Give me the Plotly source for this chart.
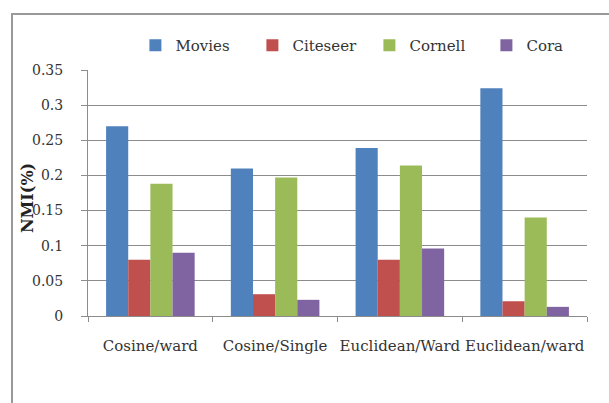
import plotly.graph_objects as go

categories = ["Cosine/ward", "Cosine/Single", "Euclidean/Ward", "Euclidean/ward"]
series_names = ["Movies", "Citeseer", "Cornell", "Cora"]
movies = [0.27, 0.21, 0.239, 0.324]
citeseer = [0.08, 0.031, 0.08, 0.021]
cornell = [0.188, 0.197, 0.214, 0.14]
cora = [0.09, 0.023, 0.096, 0.013]
colors = ["#4F81BD", "#C0504D", "#9BBB59", "#8064A2"]
y_ticks = [0, 0.05, 0.1, 0.15, 0.2, 0.25, 0.3, 0.35]
y_tick_labels = ["0", "0.05", "0.1", "0.15", "0.2", "0.25", "0.3", "0.35"]

FONT = "DejaVu Serif"

fig = go.Figure()
for name, vals, col in zip(series_names, [movies, citeseer, cornell, cora], colors):
    fig.add_trace(go.Bar(x=categories, y=vals, name=name, marker=dict(color=col, line=dict(width=0))))

fig.update_layout(
    width=609, height=403,
    margin=dict(l=88, r=22, t=70, b=87, autoexpand=False),
    paper_bgcolor="white", plot_bgcolor="white",
    barmode="group", bargap=0.29, bargroupgap=0,
    font=dict(family=FONT, size=14, color="#333333"),
    showlegend=True,
    legend=dict(orientation="h", x=0.095, y=1.10, xanchor="left", yanchor="middle",
                font=dict(family=FONT, size=15, color="#333333"),
                entrywidth=72, itemwidth=30, bgcolor="rgba(0,0,0,0)"),
    xaxis=dict(showgrid=False, showline=True, linecolor="#8c8c8c", linewidth=1,
               ticks="outside", tickson="boundaries", ticklen=5, tickcolor="#8c8c8c",
               tickangle=0, tickfont=dict(family=FONT, size=15, color="#333333"),
               ticklabelstandoff=16),
    yaxis=dict(range=[0, 0.35], tickvals=y_ticks, ticktext=y_tick_labels,
               showgrid=True, gridcolor="#8c8c8c", gridwidth=1,
               showline=True, linecolor="#8c8c8c", linewidth=1,
               ticks="outside", ticklen=6, tickcolor="#8c8c8c",
               tickfont=dict(family=FONT, size=14, color="#333333"),
               ticklabelstandoff=15, zeroline=False),
    annotations=[dict(text="<b>NMI(%)</b>", textangle=-90, xref="paper", yref="paper",
                      x=(27 - 88) / 499, y=(316 - 198) / 246, xanchor="center", yanchor="middle",
                      showarrow=False, font=dict(family=FONT, size=16, color="#222222"))],
    shapes=[dict(type="rect", xref="paper", yref="paper",
                 x0=(12 - 88) / 499, y0=-0.5, x1=1.3, y1=(316 - 14) / 246,
                 line=dict(color="#999999", width=2), fillcolor="rgba(0,0,0,0)", layer="below")],
)

fig.write_html("out.html")
